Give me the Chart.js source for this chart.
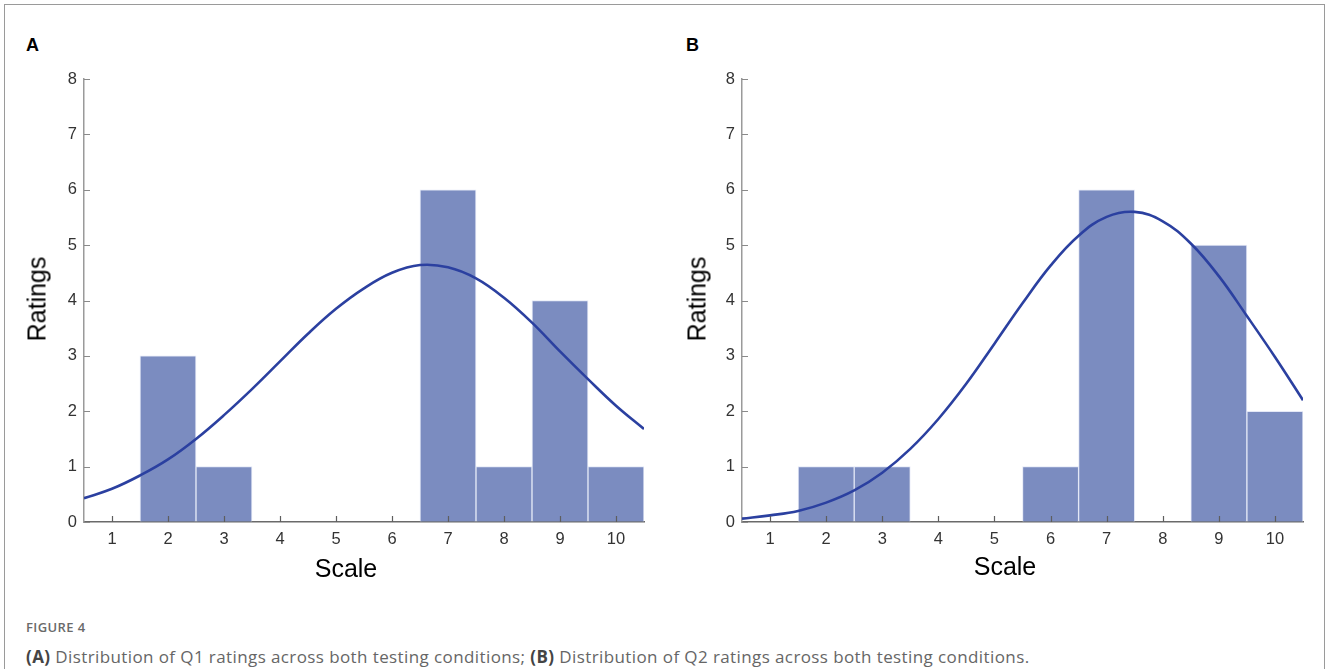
<!DOCTYPE html>
<html>
<head>
<meta charset="utf-8">
<script src="https://cdn.jsdelivr.net/npm/chart.js@4.4.1/dist/chart.umd.min.js"></script>
<style>
  html, body { margin: 0; padding: 0; background: #fff; }
  body { width: 1328px; height: 669px; position: relative; overflow: hidden; font-family: "Liberation Sans", Arial, sans-serif; }
  .frame { position: absolute; left: 4px; top: 4px; width: 1321px; height: 700px; border: 1.5px solid #9a9a9a; box-sizing: border-box; }
  .box { position: absolute; }
  .letter { position: absolute; font-weight: bold; font-size: 18px; color: #000; }
  .ytitle { position: absolute; font-size: 25px; color: #000; transform: translate(-50%, -50%) rotate(-90deg); white-space: nowrap; }
  .xtitle { position: absolute; font-size: 25px; color: #000; transform: translate(-50%, -50%); white-space: nowrap; }
  .fig { position: absolute; left: 26px; top: 618px; font-family: "Open Sans", sans-serif; font-weight: 600; font-size: 13px; color: #6a6a6a; letter-spacing: 0.4px; }
  .cap { position: absolute; left: 26px; top: 645px; font-family: "Open Sans", sans-serif; font-size: 17px; color: #666; white-space: nowrap; letter-spacing: 0.4px; }
  .cap b { font-weight: 700; color: #444; }
</style>
</head>
<body>
<div class="frame"></div>
<div class="letter" style="left:26px; top:35px;">A</div>
<div class="letter" style="left:686px; top:35px;">B</div>
<div class="box" style="left:20px; top:60px; width:640px; height:500px;"><canvas id="cA"></canvas></div>
<div class="box" style="left:678px; top:60px; width:640px; height:500px;"><canvas id="cB"></canvas></div>
<div class="ytitle" style="left:37px; top:299px;">Ratings</div>
<div class="ytitle" style="left:697px; top:299px;">Ratings</div>
<div class="xtitle" style="left:346px; top:568px;">Scale</div>
<div class="xtitle" style="left:1005px; top:566px;">Scale</div>
<div class="fig">FIGURE 4</div>
<div class="cap"><b>(A)</b> Distribution of Q1 ratings across both testing conditions; <b>(B)</b> Distribution of Q2 ratings across both testing conditions.</div>

<script>
// ---- data ----
const scaleValues = [1, 2, 3, 4, 5, 6, 7, 8, 9, 10];
const ratingsA = [0, 3, 1, 0, 0, 0, 6, 1, 4, 1];
const ratingsB = [0, 1, 1, 0, 0, 1, 6, 0, 5, 2];
const curveX = [0.5, 1, 1.5, 2, 2.5, 3, 3.5, 4, 4.5, 5, 5.5, 6, 6.5, 7, 7.5, 8, 8.5, 9, 9.5, 10, 10.5];
const curveA = [0.43, 0.6, 0.84, 1.13, 1.5, 1.93, 2.4, 2.9, 3.4, 3.85, 4.22, 4.5, 4.64, 4.6, 4.4, 4.05, 3.6, 3.08, 2.58, 2.1, 1.68];
const curveB = [0.06, 0.12, 0.2, 0.35, 0.57, 0.89, 1.32, 1.86, 2.5, 3.22, 3.95, 4.63, 5.17, 5.51, 5.6, 5.43, 5.03, 4.44, 3.72, 2.98, 2.2];
const yTicks = [0, 1, 2, 3, 4, 5, 6, 7, 8];
const xTicks = [1, 2, 3, 4, 5, 6, 7, 8, 9, 10];

const BAR = '#7b8cc0';
const LINE = '#2b40a0';

const innerTicks = {
  id: 'innerTicks',
  afterDraw(chart) {
    const ctx = chart.ctx;
    const x = chart.scales.x, y = chart.scales.y;
    const a = chart.chartArea;
    ctx.save();
    ctx.lineWidth = 1.2;
    ctx.strokeStyle = '#5e5e5e';
    ctx.beginPath();
    xTicks.forEach(v => {
      const px = Math.round(x.getPixelForValue(v)) + 0.5;
      ctx.moveTo(px, a.bottom);
      ctx.lineTo(px, a.bottom - 6);
    });
    ctx.stroke();
    ctx.strokeStyle = '#8a8a8a';
    ctx.beginPath();
    yTicks.forEach(v => {
      const py = Math.round(y.getPixelForValue(v)) + 0.5;
      ctx.moveTo(a.left, py);
      ctx.lineTo(a.left + 6, py);
    });
    ctx.stroke();
    ctx.restore();
  }
};

function makeChart(id, bars, curve, padRight) {
  new Chart(document.getElementById(id), {
    data: {
      datasets: [
        {
          type: 'line',
          order: 0,
          data: curveX.map((v, i) => ({ x: v, y: curve[i] })),
          borderColor: LINE,
          borderWidth: 2.6,
          pointRadius: 0,
          tension: 0.4,
          fill: false
        },
        {
          type: 'bar',
          order: 1,
          data: scaleValues.map((v, i) => ({ x: v, y: bars[i] })),
          backgroundColor: BAR,
          borderColor: 'rgba(225,230,245,0.9)',
          borderWidth: { top: 1, left: 1, right: 1, bottom: 0 },
          borderSkipped: 'start',
          barPercentage: 1,
          categoryPercentage: 1
        }
      ]
    },
    options: {
      responsive: true,
      maintainAspectRatio: false,
      animation: false,
      layout: { padding: { top: 19, right: padRight, left: 0, bottom: 0 } },
      plugins: { legend: { display: false }, tooltip: { enabled: false } },
      scales: {
        x: {
          type: 'linear',
          min: 0.5,
          max: 10.5,
          offset: false,
          z: 1,
          afterBuildTicks: s => { s.ticks = xTicks.map(v => ({ value: v })); },
          afterFit: s => { s.height = 38; },
          grid: { display: true, drawOnChartArea: false, drawTicks: false, offset: false },
          border: { display: true, color: '#6a6a6a', width: 1.5 },
          ticks: { padding: 8, color: '#333', font: { family: 'Liberation Sans', size: 16.5 }, maxRotation: 0, autoSkip: false }
        },
        y: {
          type: 'linear',
          min: 0,
          max: 8,
          z: 1,
          afterBuildTicks: s => { s.ticks = yTicks.map(v => ({ value: v })); },
          afterFit: s => { s.width = 64; },
          grid: { display: true, drawOnChartArea: false, drawTicks: false },
          border: { display: true, color: '#9a9a9a', width: 1.5 },
          ticks: { padding: 7, color: '#333', font: { family: 'Liberation Sans', size: 16.5 } }
        }
      }
    },
    plugins: [innerTicks]
  });
}

makeChart('cA', ratingsA, curveA, 16);
makeChart('cB', ratingsB, curveB, 15);
</script>
</body>
</html>
